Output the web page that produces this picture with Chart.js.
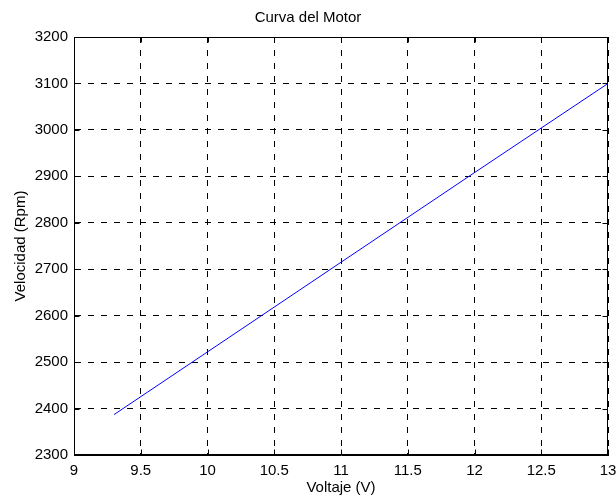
<!DOCTYPE html>
<html>
<head>
<meta charset="utf-8">
<script src="https://cdn.jsdelivr.net/npm/chart.js@4.4.1/dist/chart.umd.min.js"></script>
<style>
  body { margin: 0; background: #fff; }
  canvas { display: block; }
</style>
</head>
<body>
<canvas id="myChart" width="616" height="499"></canvas>
<script>
// values
const voltaje = [9.3, 10, 11, 12, 13];
const velocidad = [2387, 2522, 2715, 2908, 3100];
const xRange = [9, 13];
const yRange = [2300, 3200];

const font = { family: '"Liberation Sans", Arial, sans-serif', size: 15 };

// box round the plot and the small inner ticks, like the original figure
const frame = {
    id: 'frame',
    afterDraw(chart) {
        const { ctx, chartArea: a, scales } = chart;
        const l = Math.round(a.left) + 0.5, r = Math.round(a.right) - 0.5;
        const t = Math.round(a.top) + 0.5, b = Math.round(a.bottom) - 0.5;
        ctx.save();
        ctx.strokeStyle = '#000';
        ctx.lineWidth = 1;
        ctx.setLineDash([]);
        ctx.strokeRect(l, t, r - l, b - t);
        ctx.beginPath();
        scales.x.ticks.forEach(tk => {
            const px = Math.round(scales.x.getPixelForValue(tk.value)) + 0.5;
            ctx.moveTo(px, b); ctx.lineTo(px, b - 5);
            ctx.moveTo(px, t); ctx.lineTo(px, t + 5);
        });
        scales.y.ticks.forEach(tk => {
            const py = Math.round(scales.y.getPixelForValue(tk.value)) + 0.5;
            ctx.moveTo(l, py); ctx.lineTo(l + 5, py);
            ctx.moveTo(r, py); ctx.lineTo(r - 5, py);
        });
        ctx.stroke();
        ctx.restore();
    }
};

const ctx = document.getElementById('myChart');

const chart = new Chart(ctx, {
    type: 'scatter',
    data: {
        datasets: [{
            data: voltaje.map((v, i) => ({ x: v, y: velocidad[i] })),
            showLine: true,
            borderColor: '#0000ff',
            borderWidth: 1,
            pointRadius: 0,
            fill: false
        }]
    },
    options: {
        responsive: false,
        animation: false,
        layout: { padding: 0 },
        plugins: {
            legend: { display: false },
            tooltip: { enabled: false },
            title: {
                display: true,
                text: 'Curva del Motor',
                color: '#000',
                font: { ...font, weight: 'normal' },
                padding: { top: 9, bottom: 10 }
            }
        },
        scales: {
            x: {
                type: 'linear',
                min: xRange[0],
                max: xRange[1],
                afterFit: s => {
                    s.height = 44;
                    s.paddingRight = 8;
                    s.paddingLeft = 4;
                },
                ticks: {
                    stepSize: 0.5,
                    color: '#000',
                    font: font,
                    padding: 7,
                    maxRotation: 0,
                    callback: v => String(v)
                },
                grid: { color: '#000', lineWidth: 1, drawTicks: false },
                border: { display: true, color: '#000', width: 1, dash: [6, 7] },
                title: {
                    display: true,
                    text: 'Voltaje (V)',
                    color: '#000',
                    font: font,
                    padding: { top: 0, bottom: 2 }
                }
            },
            y: {
                type: 'linear',
                min: yRange[0],
                max: yRange[1],
                afterFit: s => { s.width = 74; },
                ticks: {
                    stepSize: 100,
                    color: '#000',
                    font: font,
                    padding: 6,
                    callback: v => String(v)
                },
                grid: { color: '#000', lineWidth: 1, drawTicks: false },
                border: { display: true, color: '#000', width: 1, dash: [6, 7] },
                title: {
                    display: true,
                    text: 'Velocidad (Rpm)',
                    color: '#000',
                    font: font,
                    padding: { top: 12, bottom: 0 }
                }
            }
        }
    },
    plugins: [frame]
});
</script>
</body>
</html>
